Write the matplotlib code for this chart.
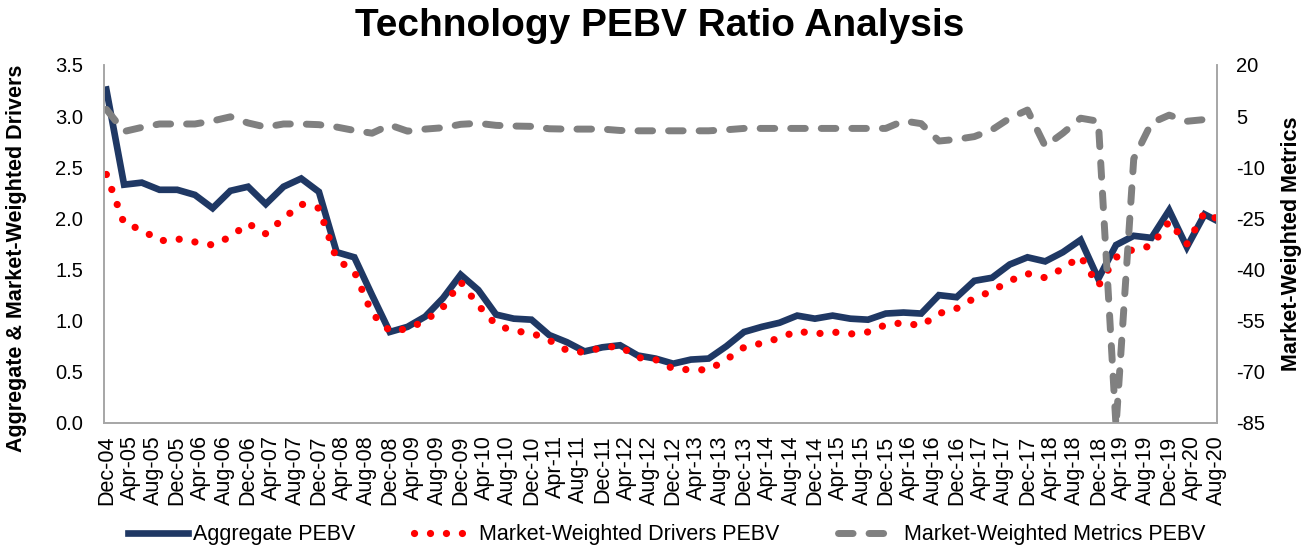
import matplotlib
matplotlib.use("Agg")
import matplotlib.pyplot as plt
import pandas as pd

# quarterly readings Dec-04 .. Jun-20, plus the latest one in Aug-20
dates = list(pd.period_range("2004-12", "2020-06", freq="M")[::3]) + [pd.Period("2020-08", freq="M")]

aggregate = [
    3.26, 2.33, 2.35, 2.28, 2.28, 2.23, 2.10, 2.27, 2.31, 2.14, 2.31, 2.39, 2.26,
    1.67, 1.62, 1.25, 0.89, 0.94, 1.04, 1.22, 1.45, 1.30, 1.06, 1.02, 1.01, 0.86,
    0.79, 0.70, 0.74, 0.76, 0.66, 0.63, 0.58, 0.62, 0.63, 0.75, 0.89, 0.94, 0.98,
    1.05, 1.02, 1.05, 1.02, 1.01, 1.07, 1.08, 1.07, 1.25, 1.23, 1.39, 1.42, 1.55,
    1.62, 1.58, 1.67, 1.79, 1.41, 1.74, 1.83, 1.81, 2.08, 1.72, 2.04, 1.98,
]
drivers = [
    2.43, 1.95, 1.89, 1.78, 1.80, 1.77, 1.74, 1.82, 1.95, 1.85, 2.00, 2.14, 2.10,
    1.60, 1.48, 1.07, 0.90, 0.92, 1.00, 1.13, 1.38, 1.15, 0.96, 0.90, 0.88, 0.81,
    0.71, 0.69, 0.74, 0.75, 0.64, 0.62, 0.53, 0.52, 0.52, 0.62, 0.74, 0.78, 0.83,
    0.90, 0.87, 0.89, 0.87, 0.89, 0.96, 0.98, 0.95, 1.07, 1.12, 1.22, 1.29, 1.39,
    1.46, 1.42, 1.51, 1.63, 1.34, 1.62, 1.70, 1.73, 1.97, 1.75, 2.06, 2.00,
]
metrics = [
    7.0, 0.5, 1.7, 2.7, 2.7, 2.7, 3.6, 4.8, 3.0, 1.8, 2.7, 2.7, 2.5,
    1.8, 0.8, 0.0, 2.4, 0.6, 1.2, 1.6, 2.6, 2.9, 2.3, 2.1, 2.0, 1.3,
    1.2, 1.2, 1.2, 0.8, 0.7, 0.7, 0.7, 0.7, 0.7, 1.0, 1.4, 1.4, 1.4,
    1.4, 1.4, 1.4, 1.4, 1.4, 1.4, 3.6, 2.8, -2.3, -1.8, -1.0, 1.0, 4.4,
    6.8, -3.8, 0.0, 4.4, 3.5, -86.0, -7.5, 3.0, 5.3, 3.5, 4.0, 4.3,
]

start = dates[0]
x = [(d - start).n for d in dates]
tick_periods = pd.period_range("2004-12", "2020-08", freq="M")[::4]
tick_pos = [(p - start).n for p in tick_periods]
tick_labels = [p.strftime("%b-%y") for p in tick_periods]

plt.rcParams["font.family"] = ["Liberation Sans", "DejaVu Sans"]
plt.rcParams["axes.unicode_minus"] = False

fig = plt.figure(figsize=(13.09, 5.52), dpi=100)
ax = fig.add_axes([104 / 1309, 1 - 423 / 552, (1217 - 104) / 1309, (423 - 65) / 552])
ax2 = ax.twinx()

navy = "#1f3864"
red = "#ff0000"
grey = "#808080"

l1, = ax.plot(x, aggregate, color=navy, lw=4.8, solid_joinstyle="miter",
              label="Aggregate PEBV")
l2, = ax.plot(x, drivers, color=red, lw=5.2, linestyle=(0, (0.01, 2.2)),
              dash_capstyle="round", label="Market-Weighted Drivers PEBV")
l3, = ax2.plot(x, metrics, color=grey, lw=5, linestyle=(0, (2.1, 2.3)),
               dash_capstyle="round", label="Market-Weighted Metrics PEBV")

ax.set_xlim(-0.4, 188.1)
ax.set_ylim(0, 3.5)
ax2.set_ylim(-85, 20)
ax.set_yticks([i * 0.5 for i in range(8)])
ax.set_yticklabels([f"{i * 0.5:.1f}" for i in range(8)])
ax2.set_yticks(list(range(-85, 21, 15)))
ax.set_xticks(tick_pos)
ax.set_xticklabels(tick_labels, rotation=90)

ax.tick_params(axis="y", length=0, pad=15, labelsize=14.5)
ax2.tick_params(axis="y", length=0, pad=14, labelsize=14.5)
ax.tick_params(axis="x", length=0, pad=9, labelsize=15.5)

for a in (ax, ax2):
    a.spines["top"].set_visible(False)
    for s in ("left", "right", "bottom"):
        a.spines[s].set_color("#a6a6a6")
        a.spines[s].set_linewidth(1.2)

fig.text(0.504, 0.952, "Technology PEBV Ratio Analysis", ha="center", va="center",
         fontsize=28, fontweight="bold")
fig.text(17 / 1309, 0.532, "Aggregate & Market-Weighted Drivers", rotation=90,
         ha="center", va="center", fontsize=15.5, fontweight="bold")
fig.text(1292 / 1309, 0.558, "Market-Weighted Metrics", rotation=90,
         ha="center", va="center", fontsize=15.5, fontweight="bold")

fig.legend(handles=[l1, l2, l3], loc="center", bbox_to_anchor=(0.509, 0.031),
           ncol=3, frameon=False, handlelength=2.8, handletextpad=0.25,
           columnspacing=2.7, prop={"size": 15.5})

fig.savefig("out.png", dpi=100)
